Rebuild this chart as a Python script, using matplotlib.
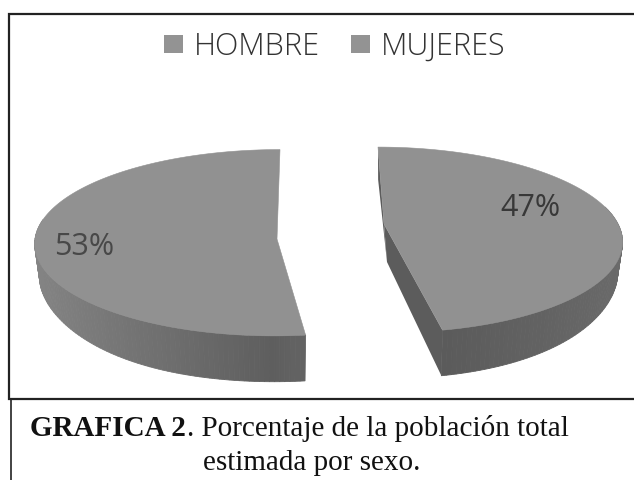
import numpy as np
import matplotlib
matplotlib.use("Agg")
import matplotlib.pyplot as plt

# Data
categories = ["HOMBRE", "MUJERES"]
shares = [47, 53]
labels = ["47%", "53%"]
caption_bold = "GRAFICA 2"
caption_rest = ". Porcentaje de la población total"
caption_line2 = "estimada por sexo."

W, H = 634, 481
TOP = "#919191"
CUT = "#5c5c5c"

fig = plt.figure(figsize=(W / 100, H / 100), dpi=100)
ax = fig.add_axes([0, 0, 1, 1])
ax.set_xlim(0, W)
ax.set_ylim(H, 0)
ax.axis("off")


def project(theta, g):
    # theta clockwise from the back of the pie, with a simple perspective
    X = np.sin(theta)
    Y = np.cos(theta)
    s = 1 / (1 + g["k"] * Y)
    x = g["cx"] + g["rx"] * X * s + g["shear"] * Y
    y = g["cy"] - g["ry"] * Y * s
    return x, y, s, X


def draw_slice(start, end, g):
    t = np.radians(np.linspace(start, end, 160))
    x, y, s, X = project(t, g)
    h = g["h"] * s * (1 - 0.25 * X ** 4)
    # the bottom rim sits a little further in than the top one
    xb = x + (g["cx"] - x) * 0.02

    # outer wall, shaded strip by strip (the back of the wall is hidden)
    for i in np.argsort(y[:-1]):
        if np.cos(t[i]) > 0.2:
            continue
        shade = g["dark"] + (g["light"] - g["dark"]) * abs(X[i])
        ax.fill([x[i], x[i + 1], xb[i + 1], xb[i]],
                [y[i], y[i + 1], y[i + 1] + h[i + 1], y[i] + h[i]],
                color=str(shade), lw=0.6, zorder=2)

    # cut faces
    ax0, ay0 = g["cx"], g["cy"]
    for j in g["cuts"]:
        ax.fill([ax0, x[j], xb[j], ax0 + 3],
                [ay0, y[j], y[j] + h[j], ay0 + g["h"]],
                color=CUT, lw=0, zorder=3)

    # top surface
    ax.fill(np.r_[ax0, x], np.r_[ay0, y], color=TOP, lw=0.4, zorder=4)


geom = [
    dict(cx=384, cy=225, rx=234, ry=90, k=0.17, shear=-6, h=38,
         dark=0.34, light=0.42, cuts=[0, -1]),
    dict(cx=277, cy=240, rx=242, ry=93, k=0.04, shear=3, h=44,
         dark=0.37, light=0.52, cuts=[]),
]

# both slices start where the shares say, left one nudged to fit the drawing
ends = np.cumsum(shares) / 100 * 360
draw_slice(0, ends[0], geom[0])
draw_slice(ends[0] + 3.6, ends[1], geom[1])

# data labels
ax.text(530, 208, labels[0], fontsize=22, family="Open Sans", color="#383838",
        ha="center", va="center", zorder=5)
ax.text(84, 247, labels[1], fontsize=22, family="Open Sans", color="#484848",
        ha="center", va="center", zorder=5)

# legend
legend_x = [164, 351]
for name, lx in zip(categories, legend_x):
    ax.fill([lx, lx + 19, lx + 19, lx], [36, 36, 54, 54], color="#939393", lw=0, zorder=5)
    ax.text(lx + 30, 47, name, fontsize=22, family="Open Sans", color="#333333",
            fontweight="light", ha="left", va="center", zorder=5)

# frame around the chart and the caption rule
ax.plot([W, 8.5, 8.5, W], [14.5, 14.5, 399.5, 399.5], color="#222222", lw=1.6,
        solid_joinstyle="miter", zorder=6)
ax.plot([10.5, 10.5], [400, H], color="#222222", lw=1.2, zorder=6)

# caption
r = fig.canvas.get_renderer()
t1 = ax.text(30, 436, caption_bold, fontsize=21, family="Liberation Serif",
             fontweight="bold", color="#111111", va="baseline")
bb = t1.get_window_extent(r)
ax.text(bb.x1 + 1, 436, caption_rest, fontsize=21, family="Liberation Serif",
        color="#111111", va="baseline")
ax.text(312, 470, caption_line2, fontsize=21, family="Liberation Serif",
        color="#111111", ha="center", va="baseline")

fig.savefig("out.png", dpi=100)
